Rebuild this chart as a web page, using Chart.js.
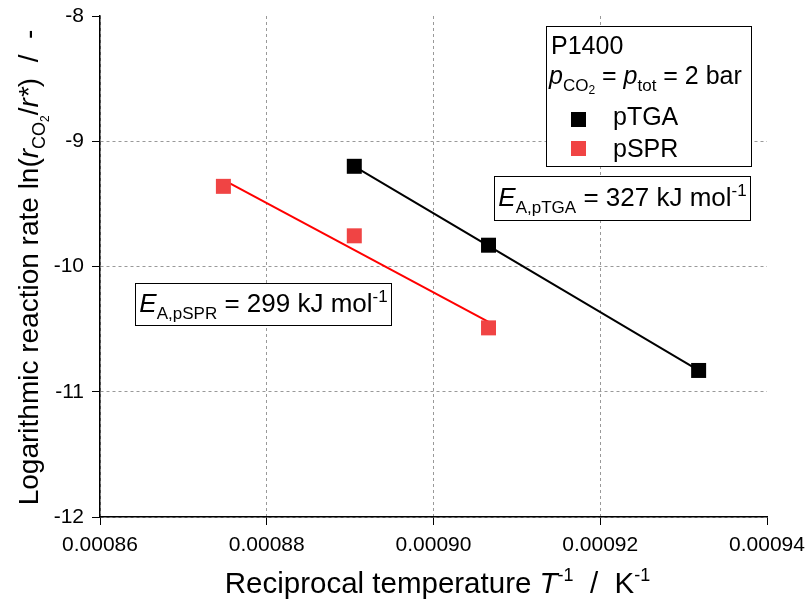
<!DOCTYPE html>
<html>
<head>
<meta charset="utf-8">
<script src="https://cdn.jsdelivr.net/npm/chart.js@4.4.1/dist/chart.umd.min.js"></script>
<style>
  html, body { margin: 0; padding: 0; background: #fff; }
  #wrap { width: 806px; height: 603px; }
</style>
</head>
<body>
<div id="wrap"><canvas id="c" width="806" height="603"></canvas></div>
<script>
// ---- Data ----
const xTicks = [0.00086, 0.00088, 0.00090, 0.00092, 0.00094];
const yTicks = [-12, -11, -10, -9, -8];

const tgaX = [0.0008905, 0.0009066, 0.0009318];
const tgaY = [-9.20, -9.83, -10.83];
const sprX = [0.0008748, 0.0008905, 0.0009066];
const sprY = [-9.36, -9.755, -10.49];

// fitted Arrhenius lines (end points)
const fitTgaX = [0.0008905, 0.0009318];
const fitTgaY = [-9.20, -10.83];
const fitSprX = [0.0008748, 0.0009066];
const fitSprY = [-9.309, -10.443];

const seriesNames = ['pTGA', 'pSPR'];
const eaTGA = 327;
const eaSPR = 299;

const FONT = '"Liberation Sans", Arial, Helvetica, sans-serif';
const RED_PT = 'rgb(240,68,68)';

function pts(xs, ys) { return xs.map((x, i) => ({ x: x, y: ys[i] })); }

function richWidth(ctx, runs) {
  let w = 0;
  for (const r of runs) {
    ctx.font = (r.italic ? 'italic ' : '') + r.size + 'px ' + FONT;
    w += ctx.measureText(r.t).width;
  }
  return w;
}
function drawRich(ctx, runs, x, y, align) {
  const w = richWidth(ctx, runs);
  let cx = align === 'center' ? x - w / 2 : x;
  ctx.textBaseline = 'alphabetic';
  ctx.textAlign = 'left';
  ctx.fillStyle = '#000';
  for (const r of runs) {
    ctx.font = (r.italic ? 'italic ' : '') + r.size + 'px ' + FONT;
    ctx.fillText(r.t, cx, y + (r.dy || 0));
    cx += ctx.measureText(r.t).width;
  }
}

const annot = {
  id: 'annot',
  afterDraw(chart) {
    const ctx = chart.ctx;
    const ca = chart.chartArea;
    ctx.save();
    // axis titles
    const T = 28, S = 18, XT = 29.5;
    drawRich(ctx, [
      { t: 'Reciprocal temperature ', size: XT },
      { t: 'T', size: XT, italic: true },
      { t: '-1', size: S, dy: -12 },
      { t: '  /  K', size: XT },
      { t: '-1', size: S, dy: -12 }
    ], (ca.left + ca.right) / 2 + 4, 593, 'center');

    ctx.save();
    ctx.translate(38, (ca.top + ca.bottom) / 2 + 1);
    ctx.rotate(-Math.PI / 2);
    drawRich(ctx, [
      { t: 'Logarithmic reaction rate ln(', size: T },
      { t: 'r', size: T, italic: true },
      { t: 'CO', size: S, dy: 7 },
      { t: '2', size: 12, dy: 11 },
      { t: '/', size: T },
      { t: 'r', size: T, italic: true },
      { t: '*', size: T, italic: true },
      { t: ')  /  -', size: T }
    ], 0, 0, 'center');
    ctx.restore();

    // legend box
    ctx.lineWidth = 1;
    ctx.strokeStyle = '#000';
    ctx.fillStyle = '#fff';
    ctx.fillRect(546.5, 26.5, 205, 140);
    ctx.strokeRect(546.5, 26.5, 205, 140);
    const L = 25, LS = 17;
    drawRich(ctx, [{ t: 'P1400', size: L }], 551, 54, 'left');
    drawRich(ctx, [
      { t: 'p', size: L, italic: true },
      { t: 'CO', size: LS, dy: 7 },
      { t: '2', size: 12, dy: 10 },
      { t: ' = ', size: L },
      { t: 'p', size: L, italic: true },
      { t: 'tot', size: LS, dy: 7 },
      { t: ' = 2 bar', size: L }
    ], 549, 84, 'left');
    ctx.fillStyle = '#000';
    ctx.fillRect(571, 112, 15, 15);
    ctx.fillStyle = RED_PT;
    ctx.fillRect(571, 141, 15, 15);
    drawRich(ctx, [{ t: seriesNames[0], size: L }], 613, 125, 'left');
    drawRich(ctx, [{ t: seriesNames[1], size: L }], 613, 157, 'left');

    // activation energy boxes
    const E = 26;
    ctx.fillStyle = '#fff';
    ctx.strokeStyle = '#000';
    ctx.fillRect(494.5, 176.5, 256, 44);
    ctx.strokeRect(494.5, 176.5, 256, 44);
    drawRich(ctx, [
      { t: 'E', size: E, italic: true },
      { t: 'A,pTGA', size: LS, dy: 7 },
      { t: ' = ' + eaTGA + ' kJ mol', size: E },
      { t: '-1', size: LS, dy: -10 }
    ], 622.5, 206, 'center');

    ctx.fillStyle = '#fff';
    ctx.fillRect(135.5, 283.5, 256, 42);
    ctx.strokeRect(135.5, 283.5, 256, 42);
    drawRich(ctx, [
      { t: 'E', size: E, italic: true },
      { t: 'A,pSPR', size: LS, dy: 7 },
      { t: ' = ' + eaSPR + ' kJ mol', size: E },
      { t: '-1', size: LS, dy: -10 }
    ], 263.5, 312, 'center');
    ctx.restore();
  }
};

Chart.defaults.font.family = FONT;
Chart.defaults.color = '#000';

new Chart(document.getElementById('c'), {
  type: 'scatter',
  data: {
    datasets: [
      { label: 'fit pTGA', data: pts(fitTgaX, fitTgaY), showLine: true, borderColor: '#000', borderWidth: 2, pointRadius: 0, order: 3 },
      { label: 'fit pSPR', data: pts(fitSprX, fitSprY), showLine: true, borderColor: '#ff0000', borderWidth: 2, pointRadius: 0, order: 4 },
      { label: seriesNames[0], data: pts(tgaX, tgaY), pointStyle: 'rect', pointRadius: 10.6, backgroundColor: '#000', borderWidth: 0, order: 1 },
      { label: seriesNames[1], data: pts(sprX, sprY), pointStyle: 'rect', pointRadius: 10.6, backgroundColor: RED_PT, borderWidth: 0, order: 2 }
    ]
  },
  options: {
    responsive: false,
    animation: false,
    layout: { padding: { left: 0, right: 39, top: 16, bottom: 0 } },
    plugins: { legend: { display: false }, tooltip: { enabled: false } },
    scales: {
      x: {
        type: 'linear',
        min: xTicks[0], max: xTicks[xTicks.length - 1],
        afterFit(s) { s.height = 86; s.paddingLeft = 0; s.paddingRight = 0; },
        afterBuildTicks(s) { s.ticks = xTicks.map(v => ({ value: v })); },
        ticks: {
          font: { size: 21 }, color: '#000', padding: 8, maxRotation: 0,
          callback: v => Number(v).toFixed(5)
        },
        grid: {
          color: c => (c.tick && c.tick.value === xTicks[xTicks.length - 1]) ? 'rgba(0,0,0,0)' : '#999',
          lineWidth: 1, tickLength: 8, tickColor: '#000', tickWidth: 1
        },
        border: { display: true, color: '#000', width: 1.5, dash: [3, 3] }
      },
      y: {
        type: 'linear',
        min: yTicks[0], max: yTicks[yTicks.length - 1],
        afterFit(s) { s.width = 100; s.paddingTop = 0; s.paddingBottom = 0; },
        afterBuildTicks(s) { s.ticks = yTicks.map(v => ({ value: v })); },
        ticks: { font: { size: 21 }, color: '#000', padding: 8, callback: v => String(v) },
        grid: {
          color: c => (c.tick && c.tick.value === yTicks[yTicks.length - 1]) ? 'rgba(0,0,0,0)' : '#999',
          lineWidth: 1, tickLength: 8, tickColor: '#000', tickWidth: 1
        },
        border: { display: true, color: '#000', width: 1.5, dash: [3, 3] }
      }
    }
  },
  plugins: [annot]
});
</script>
</body>
</html>
